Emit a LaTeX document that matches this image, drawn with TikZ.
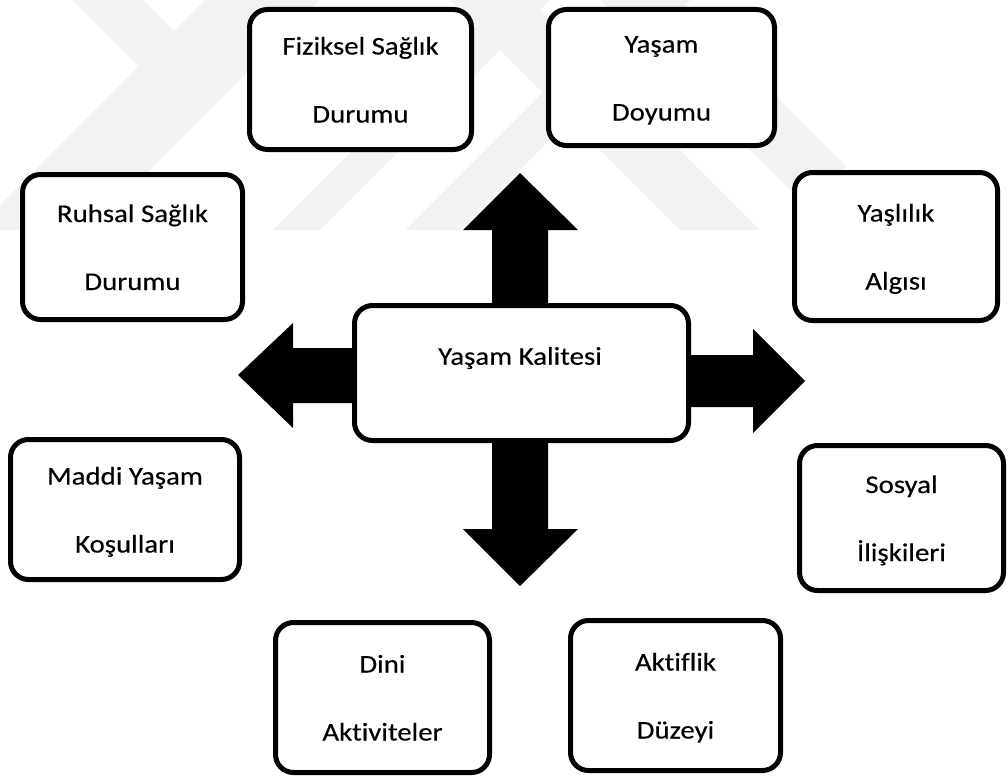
\documentclass[tikz,border=0pt]{standalone}
\usepackage{fontspec}
\newfontfamily\calib[FakeStretch=1.13,FakeBold=0.35,Ligatures=NoCommon]{Carlito}
\newcommand\lnstrut{\rule[-12pt]{0pt}{42pt}}
\begin{document}
\begin{tikzpicture}[x=1pt,y=-1pt,
  box/.style={draw=black,line width=5pt,rounded corners=18pt,fill=white,
    align=center,inner sep=0pt,font=\calib\fontsize{25.5}{68}\selectfont},
  lbl/.style={inner sep=0pt,font=\calib\fontsize{25.5}{32}\selectfont},
  wm/.style={fill=black!5},
  blk/.style={fill=black}]
\useasboundingbox (0,0) rectangle (1008,776);
% watermark
\begin{scope}
\clip (0,0) rectangle (1008,230);
\fill[wm] (72,0) -- (143,0) -- (231.5,88.5) -- (136.5,64.5) -- cycle;
\fill[wm] (205,0) -- (320,0) -- (90,230) -- (-25,230) -- cycle;
\fill[wm] (503,0) -- (550,0) -- (320,230) -- (273,230) -- cycle;
\fill[wm] (635,0) -- (690,0) -- (460,230) -- (405,230) -- cycle;
\fill[wm] (450,0) -- (530,0) -- (760,230) -- (680,230) -- cycle;
\fill[wm] (600,0) -- (680,0) -- (846,166) -- (806,206) -- cycle;
\end{scope}
% block arrows
\fill[blk] (492,310) -- (492,230) -- (463,230) -- (520,173) -- (578,230) -- (548,230) -- (548,310) -- cycle;
\fill[blk] (492,436) -- (492,529) -- (463,529) -- (520,586) -- (578,529) -- (548,529) -- (548,436) -- cycle;
\fill[blk] (360,348) -- (293,348) -- (293,323) -- (238,375) -- (293,428) -- (293,403) -- (360,403) -- cycle;
\fill[blk] (684,355) -- (753,355) -- (753,329) -- (805,381) -- (753,433) -- (753,407) -- (684,407) -- cycle;
% centre
\node[box,minimum width=334pt,minimum height=135pt] (kal) at (521.5,373) {};
\node[lbl] (kalt) at (520,358) {Yaşam Kalitesi};
% outer boxes
\node[box,minimum width=222pt,minimum height=140pt] (fiz) at (360.5,79.5) {\lnstrut Fiziksel Sağlık\\\lnstrut Durumu};
\node[box,minimum width=226pt,minimum height=136pt] (doy) at (661.5,77.5) {\lnstrut Yaşam\\\lnstrut Doyumu};
\node[box,minimum width=220pt,minimum height=145pt] (ruh) at (132.5,247) {\lnstrut Ruhsal Sağlık\\\lnstrut Durumu};
\node[box,minimum width=203pt,minimum height=148pt] (yas) at (896,246.5) {\lnstrut Yaşlılık\\\lnstrut Algısı};
\node[box,minimum width=229pt,minimum height=140pt] (mad) at (125,509.5) {\lnstrut Maddi Yaşam\\\lnstrut Koşulları};
\node[box,minimum width=204pt,minimum height=145pt] (sos) at (901.5,518) {\lnstrut Sosyal\\\lnstrut İlişkileri};
\node[box,minimum width=214pt,minimum height=150pt] (din) at (382.5,697.5) {\lnstrut Dini\\\lnstrut Aktiviteler};
\node[box,minimum width=210pt,minimum height=150pt] (akt) at (675.5,695.5) {\lnstrut Aktiflik\\\lnstrut Düzeyi};
\end{tikzpicture}
\end{document}
